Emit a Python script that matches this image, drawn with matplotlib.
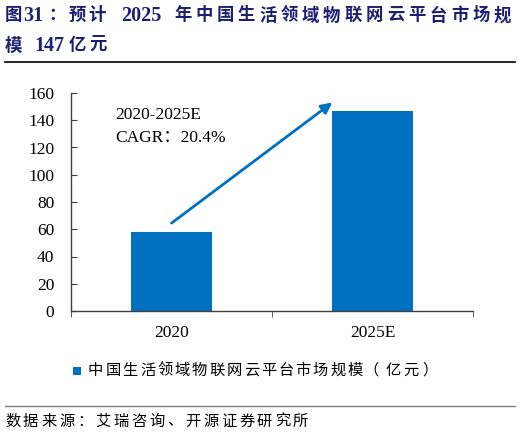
import matplotlib.pyplot as plt
from matplotlib.lines import Line2D
from matplotlib.patches import Rectangle

# Data
categories = ['2020', '2025E']
market_size = [58, 147]
series_name = '中国生活领域物联网云平台市场规模（亿元）'
y_ticks = [0, 20, 40, 60, 80, 100, 120, 140, 160]
cagr_label = ['2020-2025E', 'CAGR：20.4%']

plt.rcParams['font.family'] = ['Liberation Serif', 'Noto Sans CJK SC']

W, H = 520, 436
fig = plt.figure(figsize=(W / 100, H / 100), dpi=100)
ax = fig.add_axes([71 / W, 1 - 311 / H, 402 / W, 218 / H])


def put(x_px, y_px, s, **kw):
    fig.text(x_px / W, 1 - y_px / H, s, va='center', ha='left', **kw)


def spaced(x_px, y_px, s, pitch, **kw):
    # lay out CJK characters with fixed pitch (justified look of the source)
    for k, ch in enumerate(s):
        put(x_px + k * pitch, y_px, ch, **kw)


bar_color = '#0070C0'
x = range(len(categories))
bars = ax.bar(x, market_size, width=0.4, color=bar_color, label=series_name)

ax.set_xlim(-0.5, 1.5)
ax.set_ylim(0, 160)
ax.set_yticks(y_ticks)
ax.set_xticks(x)
ax.set_xticklabels(categories)
ax.tick_params(axis='both', labelsize=12.5, length=0)
ax.tick_params(axis='x', pad=10)
ax.tick_params(axis='y', pad=12, length=4, direction='in', color='#404040', left=True)
for s in ['top', 'right']:
    ax.spines[s].set_visible(False)
for s in ['left', 'bottom']:
    ax.spines[s].set_color('#404040')
    ax.spines[s].set_linewidth(1.0)

# ticks at category boundaries, pointing out
ax.set_xticks([-0.5, 0.5, 1.5], minor=True)
ax.tick_params(axis='x', which='minor', length=4, direction='out', color='#404040')

# Growth arrow and CAGR annotation
ax.annotate('', xy=(0.8, 153), xytext=(0.0, 64.5),
            arrowprops=dict(arrowstyle='-|>', color=bar_color, lw=2,
                            mutation_scale=16, shrinkA=0, shrinkB=0))
ax.text(-0.28, 144, cagr_label[0], fontsize=12.5, va='center', ha='left')
ax.text(-0.28, 127, cagr_label[1], fontsize=12.5, va='center', ha='left')

# Title
tc = '#1F1F72'
tkw = dict(fontsize=12.5, fontweight='bold', color=tc)
dkw = dict(fontsize=14.5, fontweight='bold', color=tc)
put(5, 16, '图', **tkw)
put(23, 16, '31', **dkw)
put(48, 16, '：', **tkw)
spaced(69, 16, '预计', 19, **tkw)
put(121, 16, '2025', **dkw)
spaced(174, 16, '年中国生活领域物联网云平台市场规', 21.3, **tkw)
put(5, 46, '模', **tkw)
put(34, 46, '147', **dkw)
spaced(69, 46, '亿元', 20, **tkw)
fig.add_artist(Line2D([5 / W, 515 / W], [1 - 62 / H, 1 - 62 / H],
                      color='#000000', lw=1.2))

# Legend (square marker + spaced label)
fig.add_artist(Rectangle((73 / W, 1 - 374.5 / H), 8 / W, 8 / H,
                         facecolor=bar_color, edgecolor='none',
                         transform=fig.transFigure))
lkw = dict(fontsize=11, family=['Noto Sans CJK SC'])
spaced(88, 370, series_name[:16], 17.3, **lkw)
put(363, 370, series_name[16], **lkw)
spaced(386, 370, series_name[17:19], 17.3, **lkw)
put(422, 370, series_name[19], **lkw)

# Source
fig.add_artist(Line2D([5 / W, 515 / W], [1 - 406 / H, 1 - 406 / H],
                      color='#7F7F7F', lw=1.0))
spaced(5, 421, '数据来源：艾瑞咨询、开源证券研究所', 18, **lkw)

fig.savefig('out.png', dpi=100)
